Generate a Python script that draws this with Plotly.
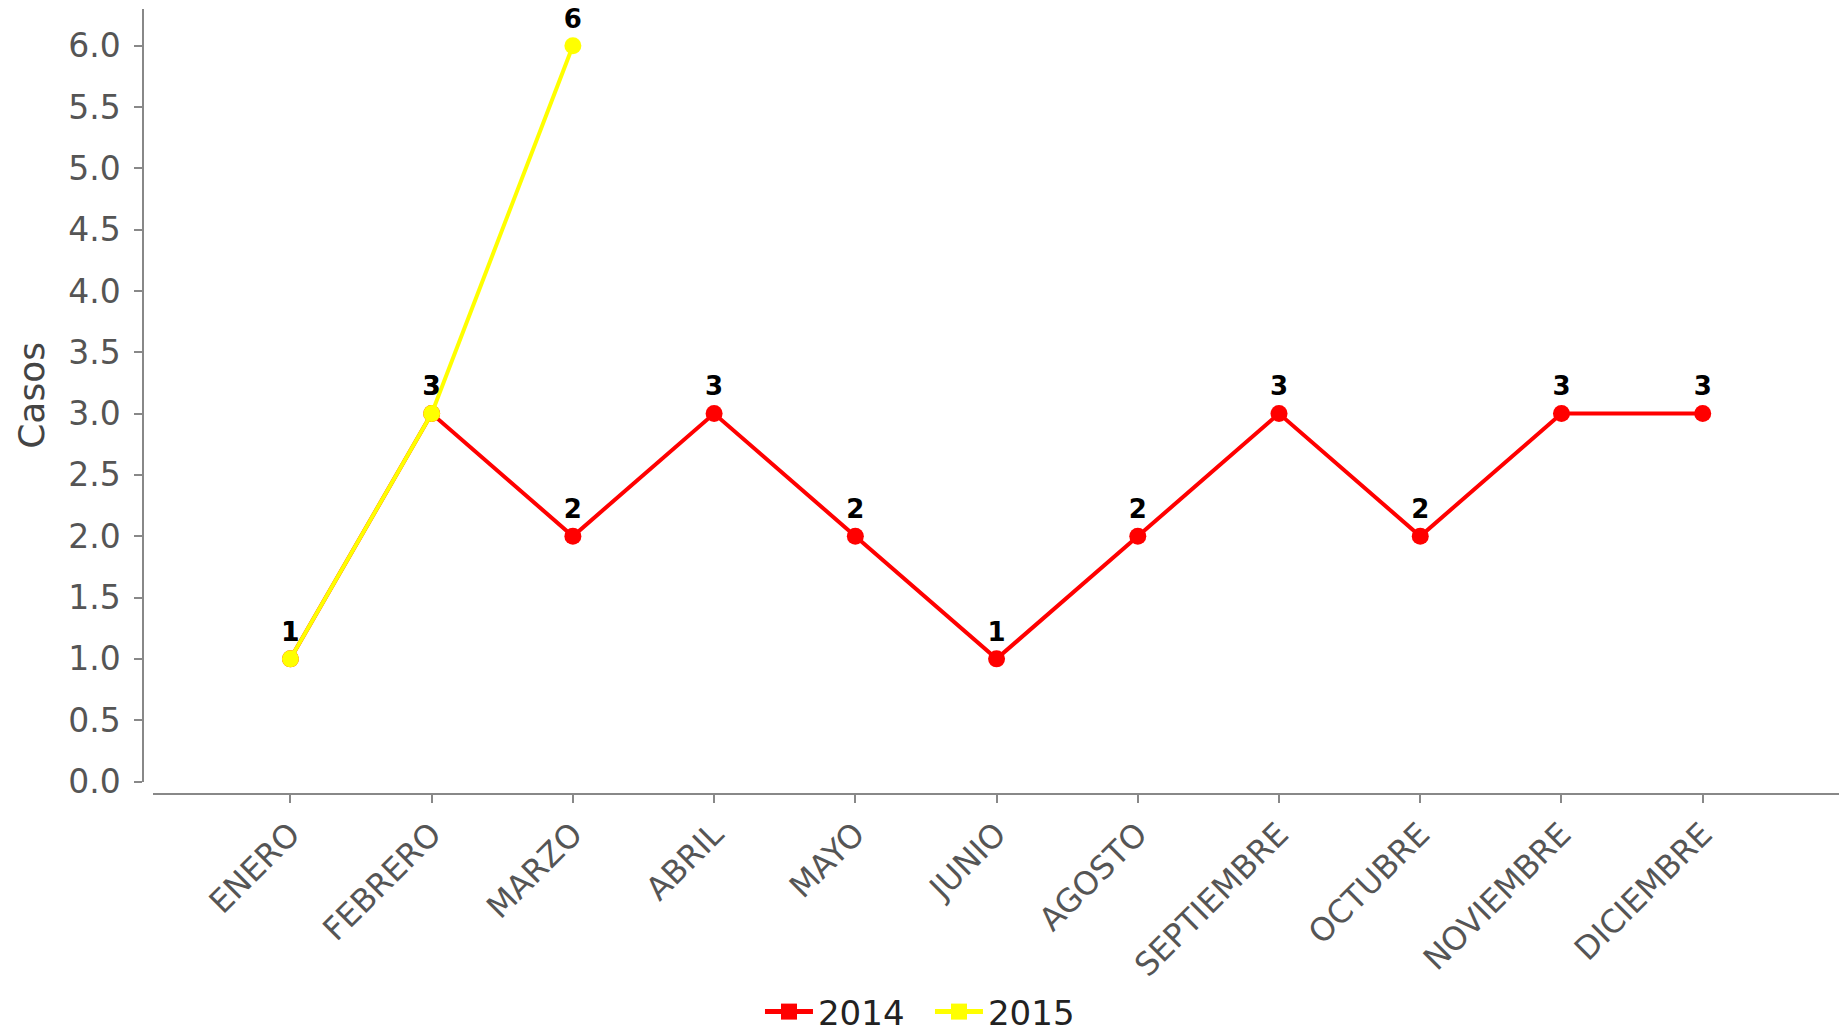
import plotly.graph_objects as go

months = ["ENERO", "FEBRERO", "MARZO", "ABRIL", "MAYO", "JUNIO", "AGOSTO",
          "SEPTIEMBRE", "OCTUBRE", "NOVIEMBRE", "DICIEMBRE"]
casos_2014 = [1, 3, 2, 3, 2, 1, 2, 3, 2, 3, 3]
casos_2015 = [1, 3, 6]
months_2015 = months[:len(casos_2015)]
series = [("2014", months, casos_2014, "#FF0000"),
          ("2015", months_2015, casos_2015, "#FFFF00")]
y_ticks = [0.0, 0.5, 1.0, 1.5, 2.0, 2.5, 3.0, 3.5, 4.0, 4.5, 5.0, 5.5, 6.0]

W, H = 1839, 1034
FONT = "DejaVu Sans"

fig = go.Figure()
for name, xs, ys, col in series:
    fig.add_trace(go.Scatter(
        x=xs, y=ys, mode="lines+markers+text", name=name,
        line=dict(color=col, width=4),
        marker=dict(color=col, size=17, symbol="circle"),
        text=[str(v) for v in ys], textposition="top center",
        textfont=dict(family=FONT, size=26, color="#000000", weight="bold"),
        showlegend=False, cliponaxis=False,
    ))
for name, xs, ys, col in series:
    fig.add_trace(go.Scatter(
        x=[None], y=[None], mode="lines+markers", name=name,
        line=dict(color=col, width=5),
        marker=dict(color=col, size=30, symbol="square"),
        showlegend=True,
    ))

fig.update_layout(
    width=W, height=H,
    margin=dict(l=0, r=0, t=0, b=0, autoexpand=False),
    paper_bgcolor="white", plot_bgcolor="white",
    font=dict(family=FONT, color="#444444"),
    xaxis=dict(
        type="category", categoryorder="array", categoryarray=months,
        domain=[153 / W, 1.0], range=[-0.973, 10.965],
        anchor="free", position=1 - 793.5 / H,
        showline=True, linecolor="#888888", linewidth=2,
        ticks="outside", ticklen=8, tickwidth=2, tickcolor="#888888",
        tickangle=-45, tickfont=dict(family=FONT, size=32, color="#555555"),
        showgrid=False, zeroline=False,
    ),
    yaxis=dict(
        domain=[1 - 781.5 / H, 1 - 9.4 / H], range=[0, 6.296],
        anchor="free", position=143.3 / W,
        showline=True, linecolor="#888888", linewidth=2,
        ticks="outside", ticklen=8, tickwidth=2, tickcolor="#888888",
        tickvals=y_ticks, ticktext=[f"{v:.1f}" for v in y_ticks],
        tickfont=dict(family=FONT, size=33, color="#555555"),
        ticklabelstandoff=7,
        title=dict(text="Casos", font=dict(family=FONT, size=36, color="#444444"), standoff=12),
        showgrid=False, zeroline=False,
    ),
    legend=dict(
        orientation="h", x=0.5057, xanchor="center", y=1 - 1012 / H, yanchor="middle",
        font=dict(family=FONT, size=34, color="#222222"),
        bgcolor="rgba(0,0,0,0)", itemwidth=48, entrywidth=107,
    ),
)

fig.write_html(
    "out.html",
    config={"displayModeBar": False},
    post_script="document.body.style.margin='0';document.body.style.overflow='hidden';",
)
